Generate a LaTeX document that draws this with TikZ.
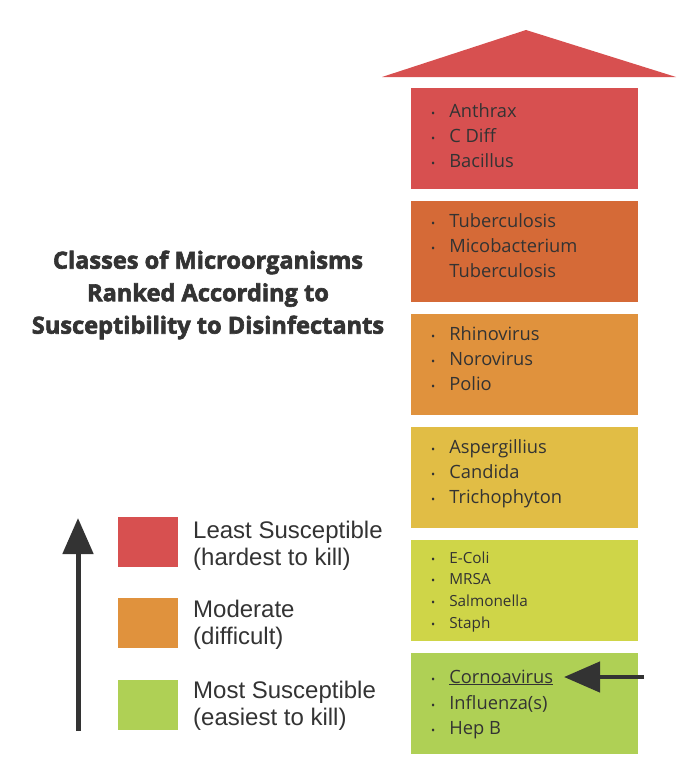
\documentclass[tikz,border=0pt]{standalone}
\usepackage{fontspec}
\setmainfont{Open Sans}
\newfontfamily\legfont{Liberation Sans}
\newfontfamily\titlefont{Open Sans}[BoldFeatures={FakeBold=2.6}]
\usetikzlibrary{arrows.meta}
\definecolor{cRed}{HTML}{D75050}
\definecolor{cRedOr}{HTML}{D56A37}
\definecolor{cOr}{HTML}{E0923D}
\definecolor{cYel}{HTML}{E1BD45}
\definecolor{cYG}{HTML}{CFD548}
\definecolor{cGr}{HTML}{AFD055}
\definecolor{ink}{HTML}{333333}
\newcommand{\bl}{{\fontsize{11}{11}\selectfont\textbullet}}
\tikzset{
  tier/.style={fill=#1, draw=none, minimum width=227pt, minimum height=101pt, inner sep=0pt, anchor=north west},
  items/.style={anchor=base west, inner sep=0pt, text=ink, font=\fontsize{18.3}{25}\selectfont},
  smallitems/.style={anchor=base west, inner sep=0pt, text=ink, font=\fontsize{15.3}{21.7}\selectfont},
  legbox/.style={fill=#1, draw=none, minimum width=60pt, minimum height=50pt, inner sep=0pt, anchor=north west},
  legtext/.style={anchor=base west, inner sep=0pt, text=ink, align=left, font=\legfont\fontsize{24}{27}\selectfont},
}
\begin{document}
\begin{tikzpicture}[x=1pt,y=-1pt]
\useasboundingbox (0,0) rectangle (694,776);
% roof
\fill[cRed] (382,77) -- (526,30) -- (676,77) -- cycle;
% tiers
\node[tier=cRed]   (t1) at (411,88)  {};
\node[tier=cRedOr] (t2) at (411,201) {};
\node[tier=cOr]    (t3) at (411,314) {};
\node[tier=cYel]   (t4) at (411,427) {};
\node[tier=cYG]    (t5) at (411,540) {};
\node[tier=cGr]    (t6) at (411,653) {};
% item lists
\node[items] (l1) at (431,117) {\begin{tabular}[t]{@{}l@{\hspace{14pt}}l@{}}\bl & Anthrax\\ \bl & C Diff\\ \bl & Bacillus\end{tabular}};
\node[items] (l2) at (431,227) {\begin{tabular}[t]{@{}l@{\hspace{14pt}}l@{}}\bl & Tuberculosis\\ \bl & Micobacterium\\ & Tuberculosis\end{tabular}};
\node[items] (l3) at (431,340) {\begin{tabular}[t]{@{}l@{\hspace{14pt}}l@{}}\bl & Rhinovirus\\ \bl & Norovirus\\ \bl & Polio\end{tabular}};
\node[items] (l4) at (431,453) {\begin{tabular}[t]{@{}l@{\hspace{14pt}}l@{}}\bl & Aspergillius\\ \bl & Candida\\ \bl & Trichophyton\end{tabular}};
\node[smallitems] (l5) at (431,563) {\begin{tabular}[t]{@{}l@{\hspace{14pt}}l@{}}\bl & E-Coli\\ \bl & MRSA\\ \bl & Salmonella\\ \bl & Staph\end{tabular}};
\node[items] (l6) at (431,683) {\begin{tabular}[t]{@{}l@{\hspace{14pt}}l@{}}\bl & \underline{Cornoavirus}\\[1pt] \bl & Influenza(s)\\ \bl & Hep B\end{tabular}};
% pointer arrow
\coordinate (pA) at (644,677);
\coordinate (pB) at (564,677);
\draw[draw=ink, fill=ink, line width=4.5pt, -{Triangle[length=36pt,width=30pt]}] (pA) -- (pB);
% title
\node[align=center, text=ink, inner sep=0pt, font=\titlefont\bfseries\fontsize{23.6}{32.5}\selectfont] (title) at (208,295)
  {Classes of Microorganisms\\Ranked According to\\Susceptibility to Disinfectants};
% legend
\coordinate (aBot) at (78,731);
\coordinate (aTop) at (78,518);
\draw[draw=ink, fill=ink, line width=5pt, -{Triangle[length=36pt,width=30pt]}] (aBot) -- (aTop);
\node[legbox=cRed] (k1) at (118,517) {};
\node[legbox=cOr]  (k2) at (118,598) {};
\node[legbox=cGr]  (k3) at (118,680) {};
\node[legtext] (k1t) at (193,565) {Least Susceptible\\(hardest to kill)};
\node[legtext] (k2t) at (193,644) {Moderate\\(difficult)};
\node[legtext] (k3t) at (193,725) {Most Susceptible\\(easiest to kill)};
\end{tikzpicture}
\end{document}
